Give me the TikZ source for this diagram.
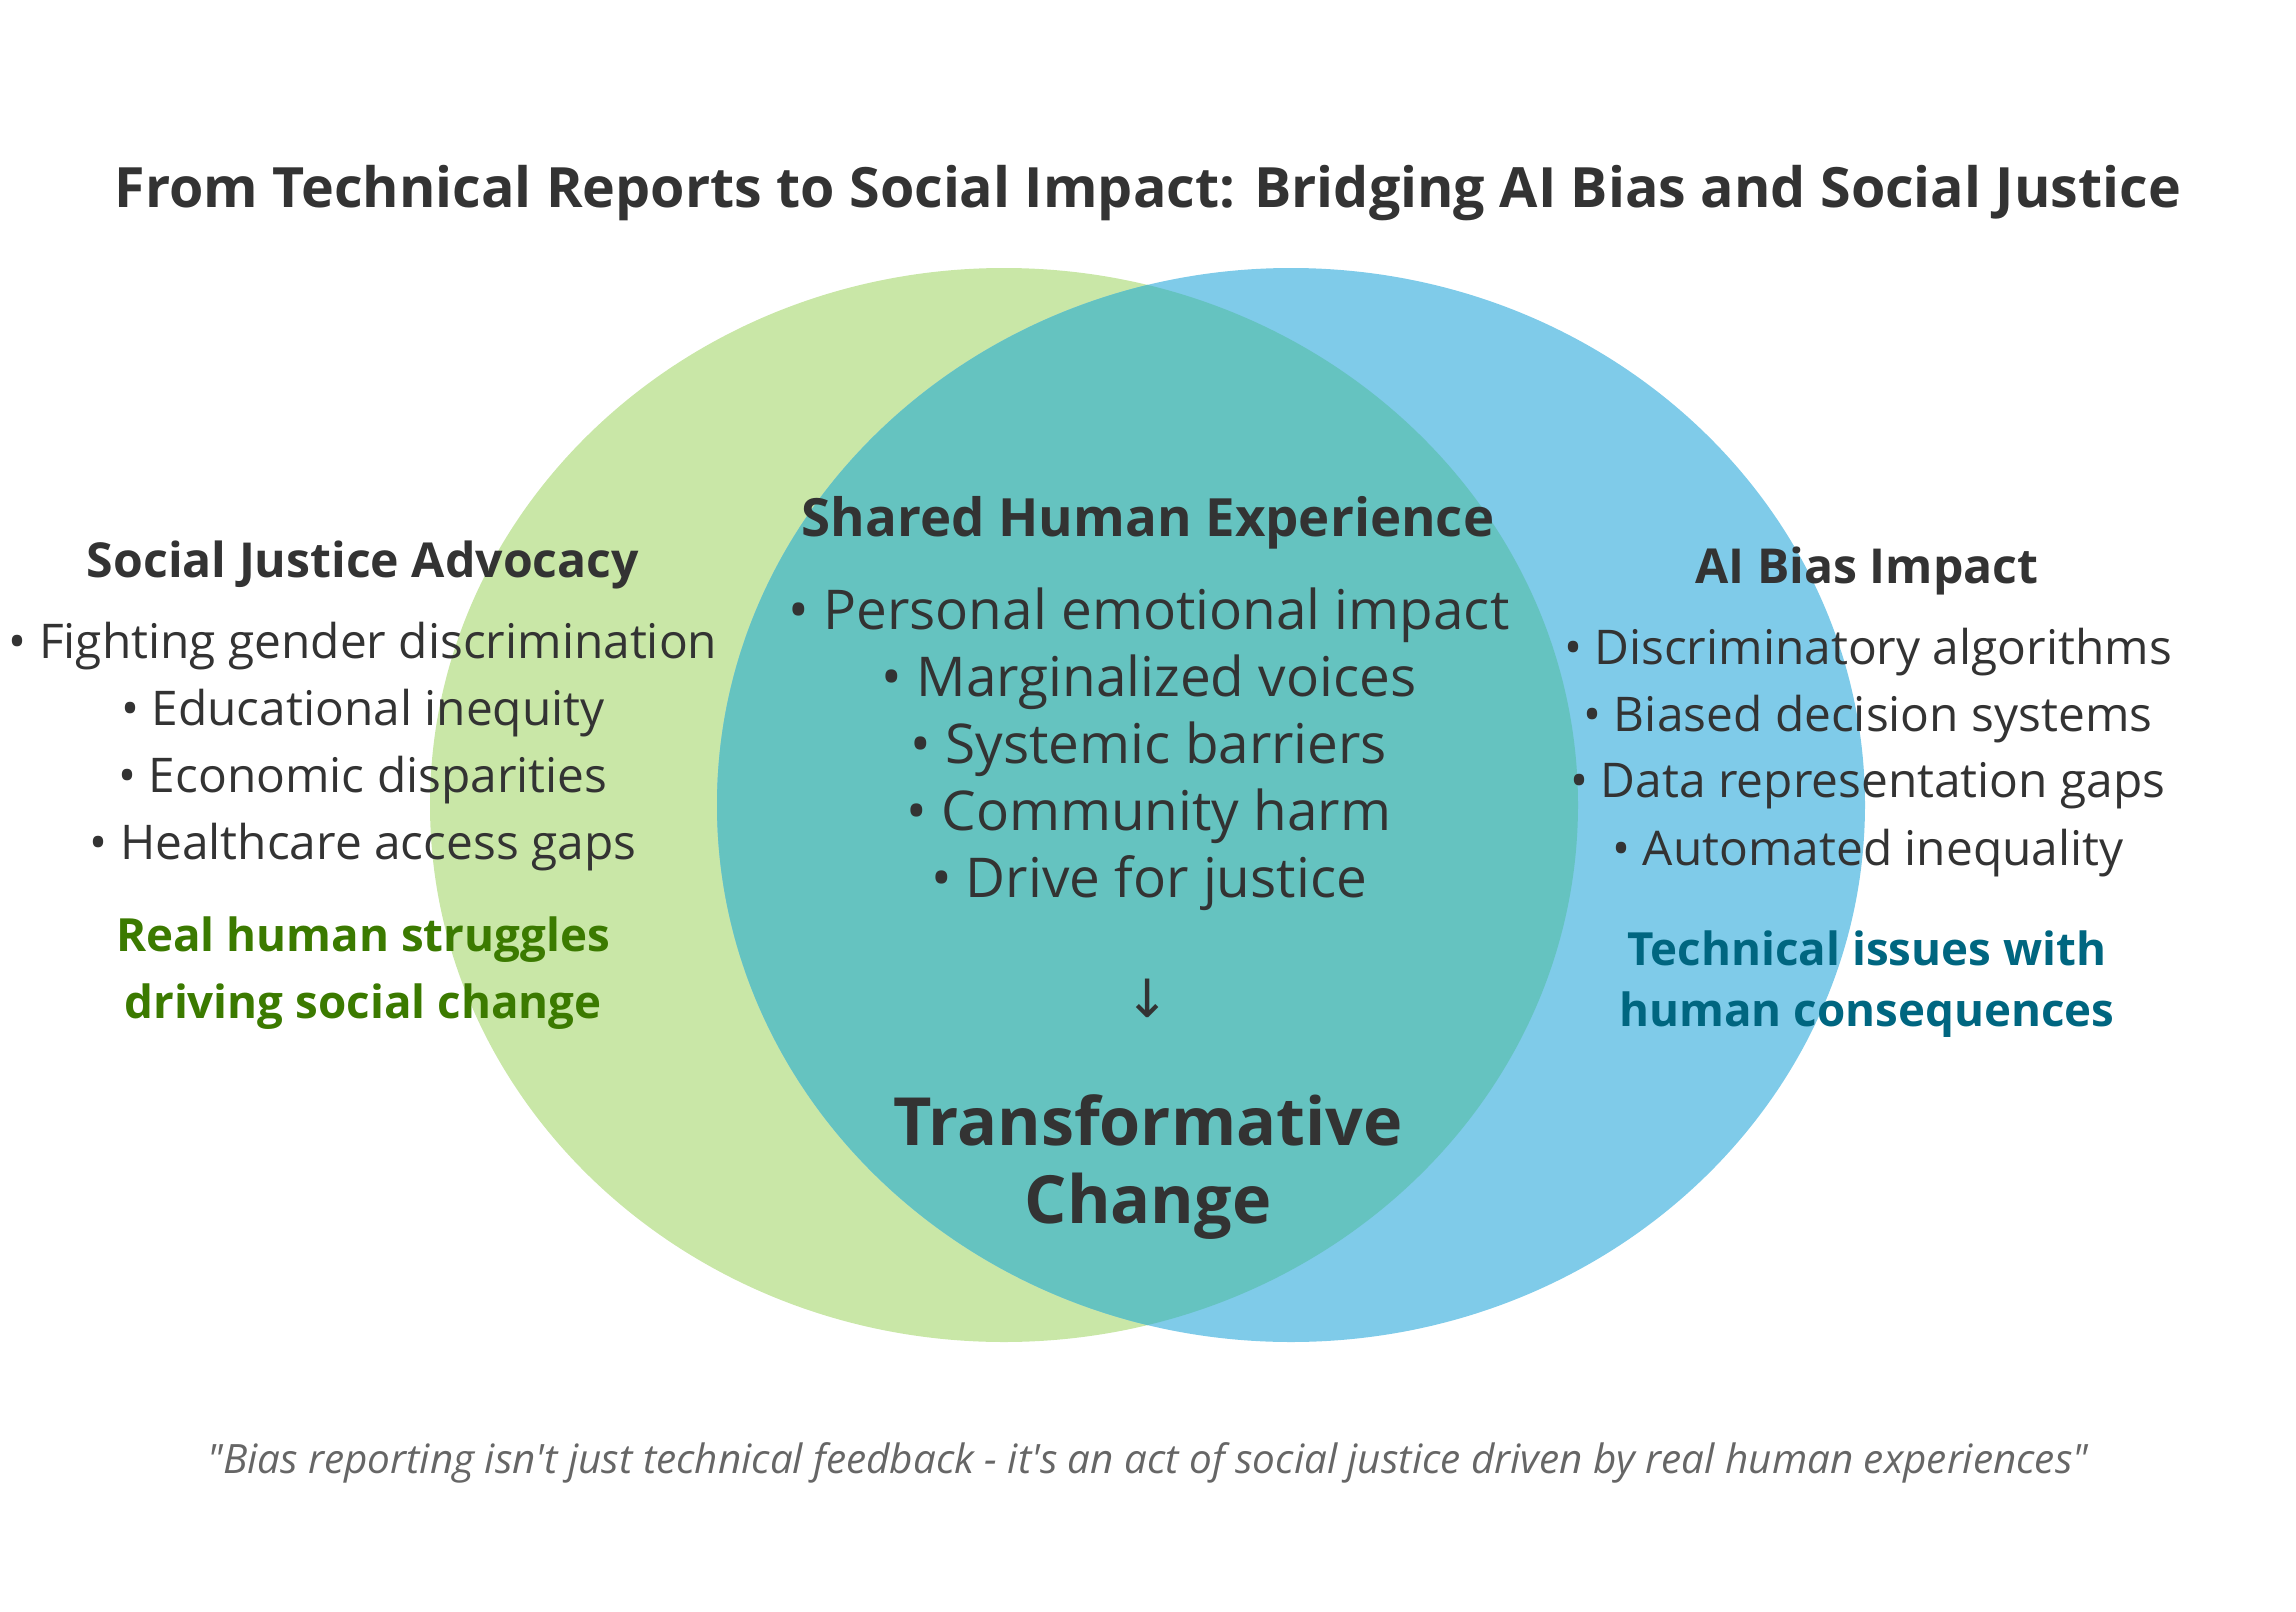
\documentclass[tikz,border=0pt]{standalone}
\usepackage{fontspec}
\setmainfont{Open Sans}
\newfontfamily\quotefont{Open Sans}
\newfontfamily\symfont{DejaVu Sans}
\usetikzlibrary{positioning}

\definecolor{leftgreen}{HTML}{C9E7A7}
\definecolor{rightblue}{HTML}{7FCBE9}
\definecolor{overlap}{HTML}{65C3C0}
\definecolor{textdark}{HTML}{333333}
\definecolor{notegreen}{HTML}{3B7A00}
\definecolor{noteteal}{HTML}{006680}
\definecolor{quotegray}{HTML}{666666}

\begin{document}
\begin{tikzpicture}[x=0.01cm,y=-0.01cm,node distance=0.67cm,text=textdark]
\tikzstyle{heading}=[font=\bfseries\fontsize{13.7}{17}\selectfont,inner sep=0pt]
\tikzstyle{item}=[font=\fontsize{13.6}{16}\selectfont,inner sep=0pt]
\tikzstyle{bigitem}=[font=\fontsize{15.6}{18}\selectfont,inner sep=0pt]
\tikzstyle{note}=[font=\bfseries\fontsize{13}{16}\selectfont,inner sep=0pt]
\tikzstyle{result}=[font=\bfseries\fontsize{18.9}{22}\selectfont,inner sep=0pt]
\useasboundingbox (0,0) rectangle (2296,1612);

% the two circles and their overlap
\fill[leftgreen] (1004,805) ellipse [x radius=574, y radius=537];
\fill[rightblue] (1291,805) ellipse [x radius=574, y radius=537];
\begin{scope}
\clip (1004,805) ellipse [x radius=574, y radius=537];
\fill[overlap] (1291,805) ellipse [x radius=574, y radius=537];
\end{scope}

\node[font=\bfseries\fontsize{15.8}{19}\selectfont,inner sep=0pt] (title) at (1148,193) {From Technical Reports to Social Impact: Bridging AI Bias and Social Justice};

% left side
\node[heading] (sj) at (363,565) {Social Justice Advocacy};
\node[item] (sj1) at (363,646) {• Fighting gender discrimination};
\node[item] (sj2) [below of=sj1] {• Educational inequity};
\node[item] (sj3) [below of=sj2] {• Economic disparities};
\node[item] (sj4) [below of=sj3] {• Healthcare access gaps};
\node[note,text=notegreen] (sjn1) at (363,940) {Real human struggles};
\node[note,text=notegreen] (sjn2) [below of=sjn1] {driving social change};

% center
\node[heading,font=\bfseries\fontsize{15}{18}\selectfont] (sh) at (1148,523) {Shared Human Experience};
\node[bigitem] (sh1) at (1149,615) {• Personal emotional impact};
\node[bigitem] (sh2) [below of=sh1] {• Marginalized voices};
\node[bigitem] (sh3) [below of=sh2] {• Systemic barriers};
\node[bigitem] (sh4) [below of=sh3] {• Community harm};
\node[bigitem] (sh5) [below of=sh4] {• Drive for justice};
\node[font=\symfont\fontsize{15}{18}\selectfont,inner sep=0pt] (down) at (1148,998) {↓};
\node[result] (tc1) at (1148,1120) {Transformative};
\node[result] (tc2) [below of=tc1,node distance=0.86cm] {Change};

% right side
\node[heading] (ai) at (1867,571) {AI Bias Impact};
\node[item] (ai1) at (1868,652) {• Discriminatory algorithms};
\node[item] (ai2) [below of=ai1] {• Biased decision systems};
\node[item] (ai3) [below of=ai2] {• Data representation gaps};
\node[item] (ai4) [below of=ai3] {• Automated inequality};
\node[note,text=noteteal] (ain1) at (1867,948) {Technical issues with};
\node[note,text=noteteal] (ain2) [below of=ain1] {human consequences};

\node[font=\quotefont\itshape\fontsize{11.5}{14}\selectfont,text=quotegray,inner sep=0pt] (quote) at (1148,1463) {"Bias reporting isn't just technical feedback - it's an act of social justice driven by real human experiences"};
\end{tikzpicture}
\end{document}
